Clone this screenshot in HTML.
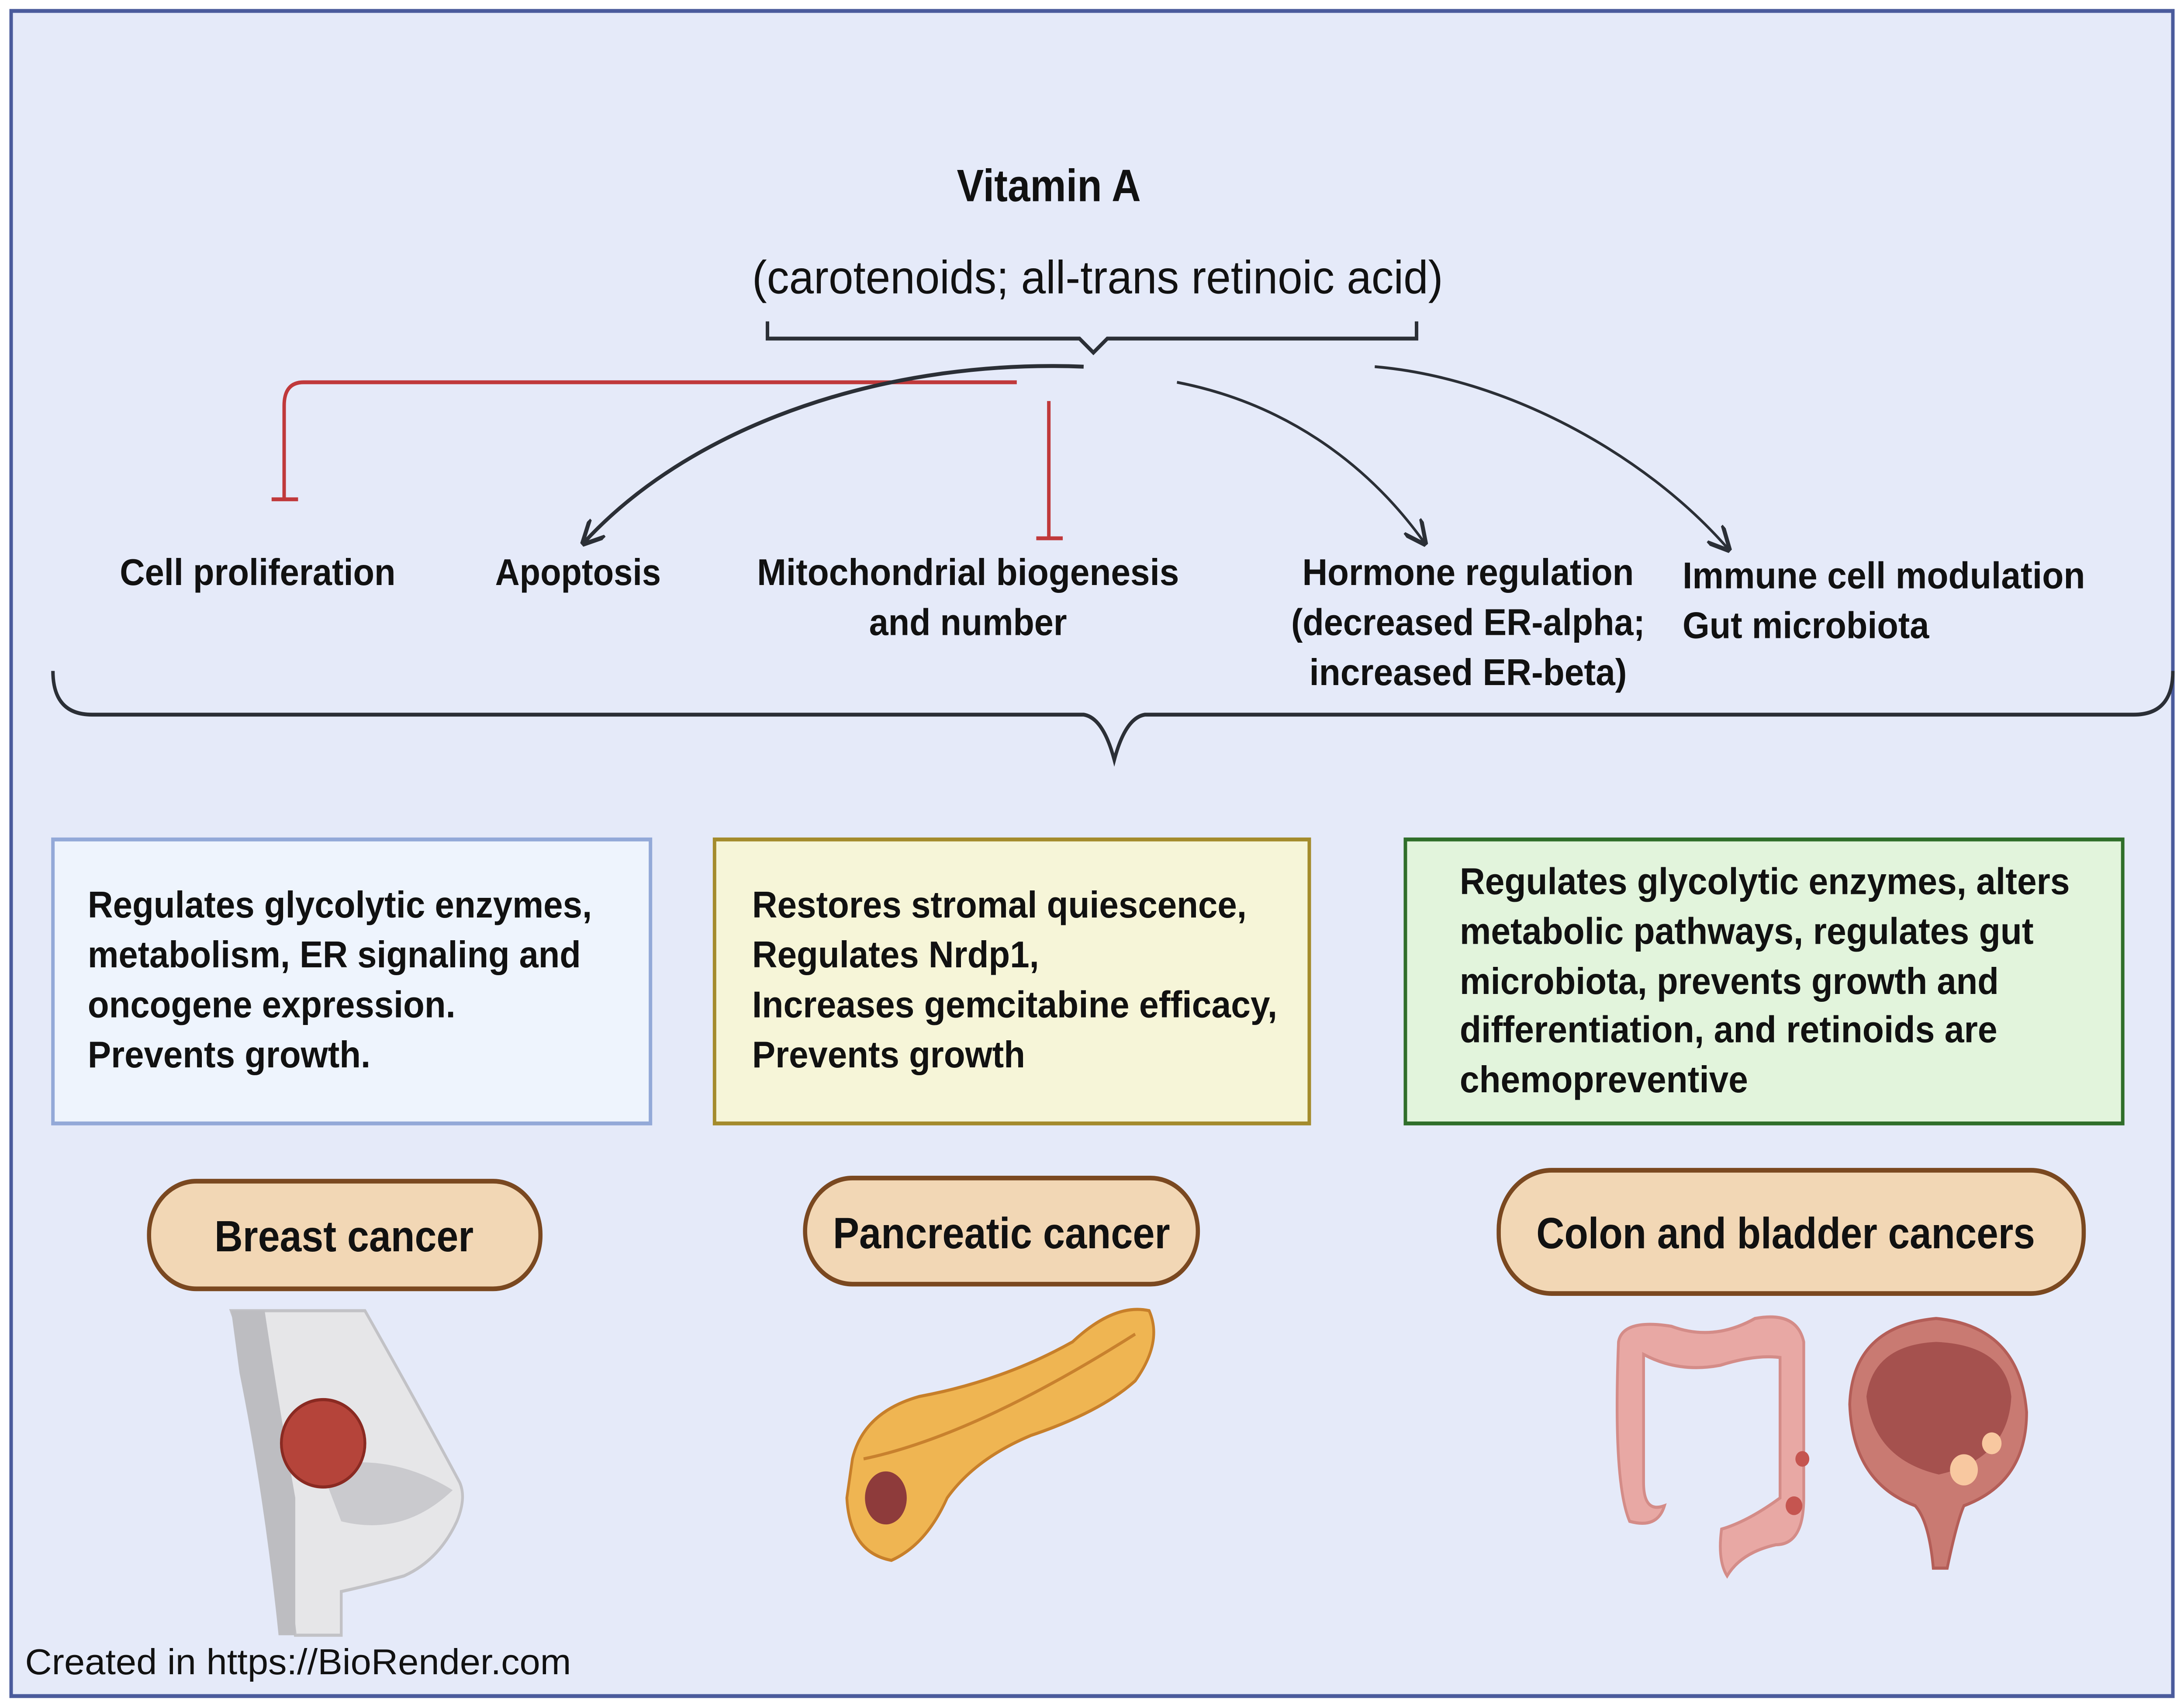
<!DOCTYPE html>
<html><head><meta charset="utf-8"><style>
html,body{margin:0;padding:0;background:#fff;width:100%;height:100%;overflow:hidden;}
svg{display:block;position:fixed;left:0;top:0;width:100vw;height:100vh;}
text{font-family:"Liberation Sans",sans-serif;fill:#111;}
.b{font-weight:bold;font-size:24px;}
</style></head><body>
<svg viewBox="0 0 1568 1094" preserveAspectRatio="none" xmlns="http://www.w3.org/2000/svg">
<defs>
<marker id="ar" viewBox="0 0 10 10" refX="8" refY="5" markerWidth="16" markerHeight="16" orient="auto-start-reverse" markerUnits="userSpaceOnUse">
<path d="M0,0 L10,5 L0,10" fill="none" stroke="#2b2f36" stroke-width="1.8"/>
</marker>
</defs>
<rect x="0" y="0" width="1568" height="1094" fill="#fff"/>
<rect x="8" y="7" width="1552" height="1080" fill="#e5eaf9" stroke="#4a5b9c" stroke-width="2.5"/>

<text x="753" y="129" text-anchor="middle" style="font-weight:bold;font-size:29px">Vitamin A</text>
<text x="788" y="188" text-anchor="middle" style="font-size:30px" textLength="496" lengthAdjust="spacingAndGlyphs">(carotenoids;  all-trans retinoic acid)</text>
<path d="M551,206 V217 H775 L785,226 L795,217 H1017 V206" fill="none" stroke="#2b2f36" stroke-width="2.5"/>

<path d="M730,245 H218 Q204,245 204,260 V320 M195,320 H214" fill="none" stroke="#c0393b" stroke-width="2.5"/>
<path d="M753,257 V345 M744,345 H763" fill="none" stroke="#c0393b" stroke-width="2.5"/>
<path d="M778,235 C640,230 500,270 420,347" fill="none" stroke="#2b2f36" stroke-width="2.5" marker-end="url(#ar)"/>
<path d="M845,245 C920,258 980,295 1022,347" fill="none" stroke="#2b2f36" stroke-width="1.8" marker-end="url(#ar)"/>
<path d="M987,235 C1080,242 1180,290 1240,351" fill="none" stroke="#2b2f36" stroke-width="1.8" marker-end="url(#ar)"/>

<text class="b" x="185" y="375" text-anchor="middle" textLength="198" lengthAdjust="spacingAndGlyphs">Cell proliferation</text>
<text class="b" x="415" y="375" text-anchor="middle" textLength="119" lengthAdjust="spacingAndGlyphs">Apoptosis</text>
<text class="b" x="695" y="375" text-anchor="middle" textLength="303" lengthAdjust="spacingAndGlyphs">Mitochondrial biogenesis</text>
<text class="b" x="695" y="407" text-anchor="middle" textLength="142" lengthAdjust="spacingAndGlyphs">and number</text>
<text class="b" x="1054" y="375" text-anchor="middle" textLength="238" lengthAdjust="spacingAndGlyphs">Hormone regulation</text>
<text class="b" x="1054" y="407" text-anchor="middle" textLength="254" lengthAdjust="spacingAndGlyphs">(decreased ER-alpha;</text>
<text class="b" x="1054" y="439" text-anchor="middle" textLength="228" lengthAdjust="spacingAndGlyphs">increased ER-beta)</text>
<text class="b" x="1208" y="377" textLength="289" lengthAdjust="spacingAndGlyphs">Immune cell modulation</text>
<text class="b" x="1208" y="409" textLength="177" lengthAdjust="spacingAndGlyphs">Gut microbiota</text>

<path d="M38,430 Q38,458 66,458 H778 Q792,460 800,487 Q808,460 822,458 H1532 Q1560,458 1560,430" fill="none" stroke="#2b2f36" stroke-width="2.5"/>

<rect x="38" y="538" width="429" height="182" fill="#eef4fd" stroke="#93a9d8" stroke-width="2.5"/>
<text class="b" x="63" y="588" textLength="362" lengthAdjust="spacingAndGlyphs">Regulates glycolytic enzymes,</text>
<text class="b" x="63" y="620" textLength="354" lengthAdjust="spacingAndGlyphs">metabolism, ER signaling and</text>
<text class="b" x="63" y="652" textLength="264" lengthAdjust="spacingAndGlyphs">oncogene expression.</text>
<text class="b" x="63" y="684" textLength="203" lengthAdjust="spacingAndGlyphs">Prevents growth.</text>

<rect x="513" y="538" width="427" height="182" fill="#f6f5d8" stroke="#a48b2c" stroke-width="2.5"/>
<text class="b" x="540" y="588" textLength="355" lengthAdjust="spacingAndGlyphs">Restores stromal quiescence,</text>
<text class="b" x="540" y="620" textLength="206" lengthAdjust="spacingAndGlyphs">Regulates Nrdp1,</text>
<text class="b" x="540" y="652" textLength="377" lengthAdjust="spacingAndGlyphs">Increases gemcitabine efficacy,</text>
<text class="b" x="540" y="684" textLength="196" lengthAdjust="spacingAndGlyphs">Prevents growth</text>

<rect x="1009" y="538" width="515" height="182" fill="#e2f4dc" stroke="#2f6e2a" stroke-width="2.5"/>
<text class="b" x="1048" y="573" textLength="438" lengthAdjust="spacingAndGlyphs">Regulates glycolytic enzymes, alters</text>
<text class="b" x="1048" y="605" textLength="412" lengthAdjust="spacingAndGlyphs">metabolic pathways, regulates gut</text>
<text class="b" x="1048" y="637" textLength="387" lengthAdjust="spacingAndGlyphs">microbiota, prevents growth and</text>
<text class="b" x="1048" y="668" textLength="386" lengthAdjust="spacingAndGlyphs">differentiation, and retinoids are</text>
<text class="b" x="1048" y="700" textLength="207" lengthAdjust="spacingAndGlyphs">chemopreventive</text>

<rect x="107" y="757" width="281" height="69" rx="34" fill="#f2d7b5" stroke="#7a4820" stroke-width="3"/>
<text x="247" y="802" text-anchor="middle" style="font-weight:bold;font-size:28px" textLength="186" lengthAdjust="spacingAndGlyphs">Breast cancer</text>
<rect x="578" y="755" width="282" height="68" rx="34" fill="#f2d7b5" stroke="#7a4820" stroke-width="3"/>
<text x="719" y="800" text-anchor="middle" style="font-weight:bold;font-size:28px" textLength="242" lengthAdjust="spacingAndGlyphs">Pancreatic cancer</text>
<rect x="1076" y="750" width="420" height="79" rx="38" fill="#f2d7b5" stroke="#7a4820" stroke-width="3"/>
<text x="1282" y="800" text-anchor="middle" style="font-weight:bold;font-size:28px" textLength="358" lengthAdjust="spacingAndGlyphs">Colon and bladder cancers</text>

<!-- breast -->
<path d="M166,840 H262 Q300,900 330,950 Q335,960 328,975 Q315,1000 290,1010 Q270,1015 245,1020 V1048 H212 Q200,960 190,900 Z" fill="#e6e6e8" stroke="#c2c2c6" stroke-width="2"/>
<path d="M166,840 H190 Q200,900 212,960 V1048 H200 Q190,960 172,880 Z" fill="#bdbdc1"/>
<path d="M230,940 Q280,930 325,955 Q290,985 245,975 Z" fill="#b8b8bc" opacity="0.6"/>
<ellipse cx="232" cy="925" rx="30" ry="28" fill="#b5443a" stroke="#8a2a22" stroke-width="2"/>
<!-- pancreas -->
<path d="M612,935 Q620,905 660,895 Q720,885 770,860 Q800,835 825,840 Q835,860 815,885 Q790,905 740,920 Q700,935 680,960 Q665,990 640,1000 Q610,995 608,960 Z" fill="#efb552" stroke="#c77f2a" stroke-width="2"/>
<path d="M620,935 Q700,920 815,855" fill="none" stroke="#c8812e" stroke-width="2"/>
<ellipse cx="636" cy="960" rx="15" ry="17" fill="#8e3b3b"/>
<!-- colon -->
<path d="M1162,860 Q1165,845 1200,850 Q1230,860 1260,845 Q1290,840 1295,860 V960 Q1295,990 1275,990 Q1250,995 1240,1010 Q1233,1000 1236,980 Q1255,975 1278,960 V870 Q1260,868 1235,875 Q1205,880 1180,868 V950 Q1180,970 1195,965 Q1190,980 1170,975 Q1158,950 1162,860 Z" fill="#e8a8a4" stroke="#d48c88" stroke-width="2"/>
<circle cx="1294" cy="935" r="5" fill="#c55550"/><circle cx="1288" cy="965" r="6" fill="#c55550"/>
<!-- bladder -->
<path d="M1328,900 Q1330,850 1390,845 Q1450,850 1455,905 Q1455,950 1410,965 Q1405,975 1398,1005 H1388 Q1385,975 1375,965 Q1330,950 1328,900 Z" fill="#c97a72" stroke="#b45e58" stroke-width="2"/>
<path d="M1340,895 Q1345,862 1390,860 Q1440,862 1444,895 Q1442,935 1392,945 Q1345,935 1340,895 Z" fill="#a5514e"/>
<circle cx="1430" cy="925" r="7" fill="#f8c8a0"/><circle cx="1410" cy="942" r="10" fill="#f8c8a0"/>

<text x="18" y="1073" style="font-size:23px" textLength="392" lengthAdjust="spacingAndGlyphs">Created in  https://BioRender.com</text>
</svg>
</body></html>
